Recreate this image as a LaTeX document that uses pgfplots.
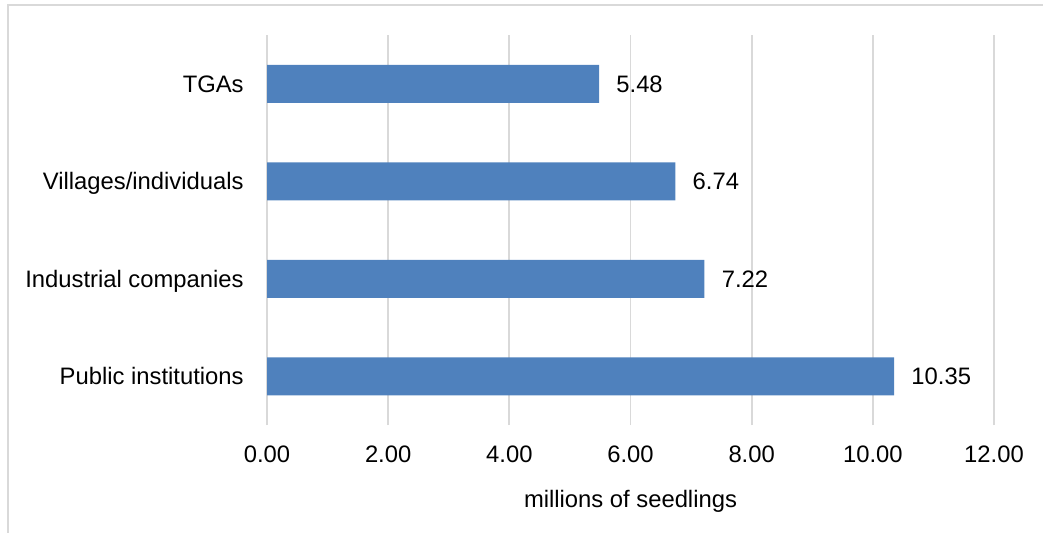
\documentclass[border=0pt]{standalone}
\usepackage{fontspec}
\setmainfont{Liberation Sans}
\usepackage{pgfplots}
\pgfplotsset{compat=1.18}

\definecolor{barblue}{HTML}{4F81BD}
\definecolor{gridgray}{HTML}{D9D9D9}

\newcommand{\chartfont}{\fontsize{11.9pt}{14pt}\selectfont}

\begin{document}
\begin{tikzpicture}
  % page area
  \useasboundingbox (0,0) rectangle (521.5pt,-266pt);
  % outer frame (only top and left edges fall on the page)
  \draw[gridgray, line width=0.9pt] (4pt,-300pt) -- (4pt,-2.5pt) -- (600pt,-2.5pt);

  \begin{axis}[
    at={(133.5pt,-212.5pt)}, anchor=south west,
    scale only axis,
    width=363.5pt, height=195pt,
    xbar, bar width=19pt,
    xmin=0, xmax=12,
    ymin=-0.5, ymax=3.5,
    xtick={0,2,...,12},
    xticklabels={0.00,2.00,4.00,6.00,8.00,10.00,12.00},
    ytick={0,1,2,3},
    yticklabels={Public institutions,Industrial companies,Villages/individuals,TGAs},
    axis line style={draw=none},
    major tick length=0pt,
    xmajorgrids,
    grid style={gridgray, line width=0.9pt},
    xticklabel style={font=\chartfont, anchor=base, inner sep=0pt, yshift=-18.85pt},
    yticklabel style={font=\chartfont, anchor=base east, inner sep=0pt, xshift=-11.5pt, yshift=-4.2pt},
    xlabel={millions of seedlings},
    xlabel style={font=\chartfont, at={(axis description cs:0.5,0)}, anchor=base, inner sep=0pt, yshift=-41pt},
    point meta=x,
    nodes near coords={\pgfmathprintnumber[fixed,fixed zerofill,precision=2,assume math mode=true]{\pgfplotspointmeta}},
    every node near coord/.append style={font=\chartfont, anchor=base west, inner sep=0pt, xshift=8.5pt, yshift=-4.2pt, text=black},
    clip=false,
  ]
    \addplot[fill=barblue, draw=none] coordinates {
      (10.35,0)
      (7.22,1)
      (6.74,2)
      (5.48,3)
    };
  \end{axis}
\end{tikzpicture}
\end{document}
